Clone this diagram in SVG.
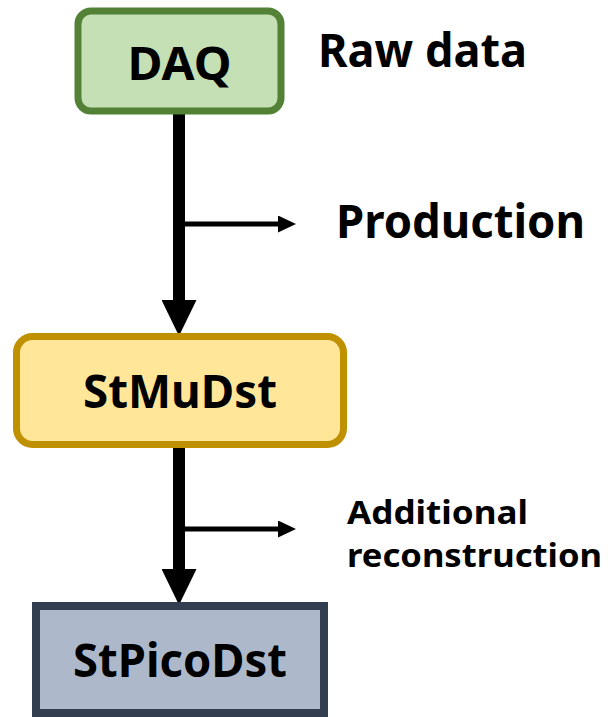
<svg xmlns="http://www.w3.org/2000/svg" width="608" height="717" viewBox="0 0 608 717">
<style>
text{font-family:"Noto Sans","Open Sans","Liberation Sans",sans-serif;font-weight:bold;fill:#000}
.node{font-size:46px}
.lbl{font-size:46px}
.small{font-size:33px}
.main{stroke:#000;stroke-width:12;fill:none}
.branch{stroke:#000;stroke-width:5;fill:none}
</style>
<defs>
<marker id="bigHead" markerUnits="userSpaceOnUse" markerWidth="36" markerHeight="35" viewBox="0 0 36 35" refX="10" refY="17.5" orient="auto">
<path d="M0,0 L36,17.5 L0,35 Z" fill="#000"/>
</marker>
<marker id="smallHead" markerUnits="userSpaceOnUse" markerWidth="18" markerHeight="17" viewBox="0 0 18 17" refX="7" refY="8.5" orient="auto">
<path d="M0,0 L18,8.5 L0,17 Z" fill="#000"/>
</marker>
</defs>
<g id="connectors">
<line class="main" x1="179" y1="112" x2="179" y2="310" marker-end="url(#bigHead)"/>
<line class="branch" x1="184" y1="224" x2="285" y2="224" marker-end="url(#smallHead)"/>
<line class="main" x1="179" y1="446" x2="179" y2="579" marker-end="url(#bigHead)"/>
<line class="branch" x1="184" y1="529" x2="285" y2="529" marker-end="url(#smallHead)"/>
</g>
<g id="DAQ">
<rect x="78" y="11" width="203" height="100" rx="13" fill="#C5E0B4" stroke="#538135" stroke-width="7"/>
<text class="node" x="179.5" y="80" text-anchor="middle" textLength="104" lengthAdjust="spacingAndGlyphs">DAQ</text>
</g>
<g id="StMuDst">
<rect x="16.5" y="336.5" width="327" height="108" rx="16" fill="#FFE699" stroke="#BF9000" stroke-width="7"/>
<text class="node" x="180" y="408" text-anchor="middle" textLength="194" lengthAdjust="spacingAndGlyphs">StMuDst</text>
</g>
<g id="StPicoDst">
<rect x="36" y="606" width="288" height="107" fill="#ADB9CA" stroke="#333F50" stroke-width="8"/>
<text class="node" x="180" y="677" text-anchor="middle" textLength="214" lengthAdjust="spacingAndGlyphs">StPicoDst</text>
</g>
<g id="labels">
<text class="lbl" x="318" y="67" textLength="209" lengthAdjust="spacingAndGlyphs">Raw data</text>
<text class="lbl" x="336" y="238" textLength="249" lengthAdjust="spacingAndGlyphs">Production</text>
<text class="small" x="347" y="524" textLength="181" lengthAdjust="spacingAndGlyphs">Additional</text>
<text class="small" x="347" y="567" textLength="255" lengthAdjust="spacingAndGlyphs">reconstruction</text>
</g>
</svg>
